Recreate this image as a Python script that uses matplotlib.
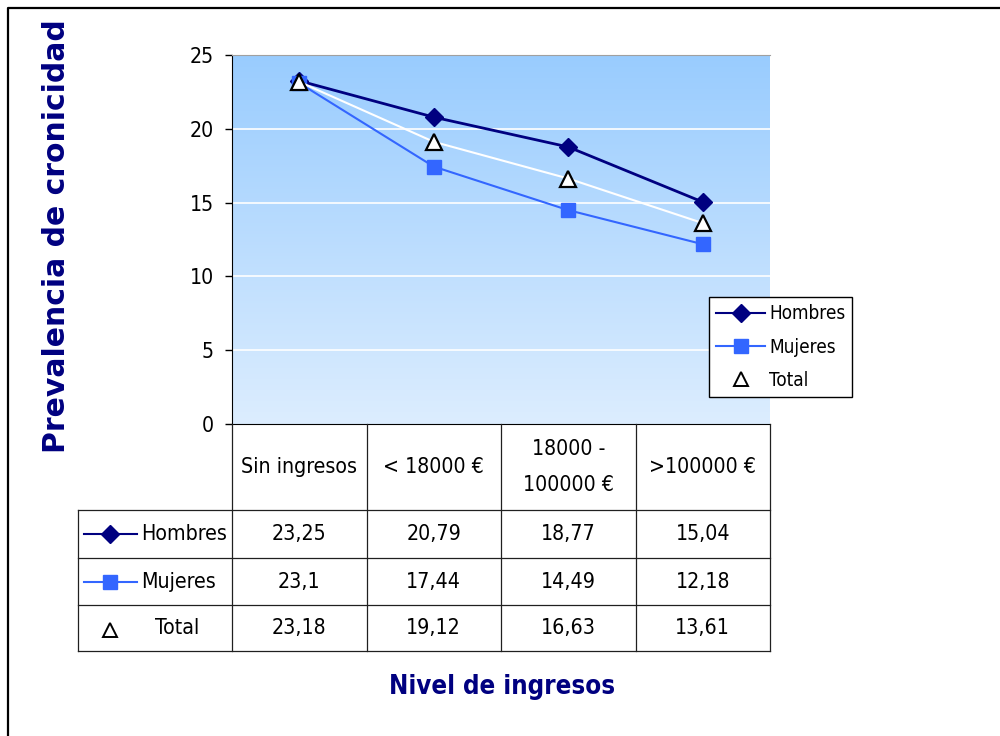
import matplotlib
matplotlib.use("Agg")
import numpy as np
import matplotlib.pyplot as plt
from matplotlib import font_manager as fm
from matplotlib import transforms
from matplotlib.lines import Line2D
from matplotlib.colors import LinearSegmentedColormap
from matplotlib.font_manager import FontProperties

# ---- data ----
categories = ["Sin ingresos", "< 18000 €", "18000 -\n100000 €", ">100000 €"]
series_names = ["Hombres", "Mujeres", "Total"]
hombres = [23.25, 20.79, 18.77, 15.04]
mujeres = [23.1, 17.44, 14.49, 12.18]
total = [23.18, 19.12, 16.63, 13.61]
yticks = [0, 5, 10, 15, 20, 25]
ylabel = "Prevalencia de cronicidad"
xlabel = "Nivel de ingresos"

# ---- fonts: prefer a narrow sans, else regular Liberation Sans scaled down ----
def find_font(keys, bold=False):
    for key in keys:
        for f in fm.fontManager.ttflist:
            fn = f.fname.replace("-", "").replace("_", "").lower()
            if key in fn and ("italic" not in fn and "oblique" not in fn):
                if bold == ("bold" in fn):
                    return f.fname
    return None


KEYS = ["liberationsansnarrow", "dejavusanscondensed", "robotocondensed"]
reg_path = find_font(KEYS)
bold_path = find_font(KEYS, bold=True)
if reg_path:
    k = 0.85
    FP = lambda s: FontProperties(fname=reg_path, size=s)
    FPB = lambda s: FontProperties(fname=bold_path or reg_path, size=s,
                                   weight="bold")
else:
    k = 0.83
    FP = lambda s: FontProperties(family="Liberation Sans", size=s)
    FPB = lambda s: FontProperties(family="Liberation Sans", size=s, weight="bold")

NAVY = "#000080"
BLUE = "#3366FF"
FS = 18 * k

W, H = 1000, 736
fig = plt.figure(figsize=(W / 100, H / 100), dpi=100)


def fx(px):
    return px / W


def fy(py):
    return 1 - py / H


# outer frame (top and left edges)
fig.add_artist(Line2D([fx(8), fx(8), fx(1010)], [fy(745), fy(8), fy(8)],
                      transform=fig.transFigure, color="black", lw=1.6))

# ---- plot area ----
L, R, T, B = 232, 770, 55, 424
ax = fig.add_axes([fx(L), fy(B), fx(R - L), (B - T) / H])
ax.set_xlim(-0.5, len(categories) - 0.5)
ax.set_ylim(0, 25)

grad = np.linspace(0, 1, 256).reshape(-1, 1)
cmap = LinearSegmentedColormap.from_list("bg", ["#DCEDFE", "#99CCFF"])
ax.imshow(grad, extent=(-0.5, len(categories) - 0.5, 0, 25), origin="lower",
          aspect="auto", cmap=cmap, zorder=0, interpolation="bilinear")

for v in yticks[1:-1]:
    ax.axhline(v, color="white", lw=1.2, zorder=1)

ax.spines["top"].set_color("#A0A0A0")
ax.spines["right"].set_visible(False)
ax.spines["left"].set_color("black")
ax.spines["bottom"].set_color("black")
ax.set_xticks([])
ax.set_yticks(yticks)
ax.tick_params(axis="y", direction="out", length=5, width=1, pad=8)
for t in ax.get_yticklabels():
    t.set_fontproperties(FP(FS))

x = np.arange(len(categories))
styles = [
    dict(color=NAVY, lw=2, marker="D", ms=9.5, mfc=NAVY, mec=NAVY),
    dict(color=BLUE, lw=1.5, marker="s", ms=10, mfc=BLUE, mec=BLUE),
    dict(color="white", lw=1.5, marker="^", ms=11, mfc="white", mec="black", mew=1.6),
]
legend_styles = [
    dict(color=NAVY, lw=1.5, marker="D", ms=9, mfc=NAVY, mec=NAVY),
    dict(color=BLUE, lw=1.5, marker="s", ms=9.5, mfc=BLUE, mec=BLUE),
    dict(color="none", lw=0, marker="^", ms=10, mfc="white", mec="black", mew=1.4),
]
values = [hombres, mujeres, total]
for name, vals, st in zip(series_names, values, styles):
    ax.plot(x, vals, zorder=3, clip_on=False, **st)

handles = [Line2D([], [], **st) for st in legend_styles]
leg = ax.legend(handles, series_names, loc="upper left",
                bbox_to_anchor=(fx(709), fy(297)), bbox_transform=fig.transFigure,
                borderaxespad=0, frameon=True, fancybox=False, framealpha=1,
                edgecolor="black", handlelength=2.6, handletextpad=0.2,
                labelspacing=0.76, borderpad=0.38, prop=FP(13.6 if reg_path else 14))
leg.get_frame().set_linewidth(1.0)
leg.set_zorder(10)

# ---- data table under the plot ----
blend = transforms.blended_transform_factory(ax.transData, fig.transFigure)
row_edges = [510, 558, 605, 651]
line_kw = dict(color="#202020", lw=0.9)

# vertical column borders at category boundaries
for edge in np.arange(-0.5, len(categories), 1.0):
    fig.add_artist(Line2D([edge, edge], [fy(B), fy(row_edges[-1])],
                          transform=blend, **line_kw))
# horizontal row borders
for ry in row_edges:
    fig.add_artist(Line2D([fx(78), fx(R)], [fy(ry), fy(ry)],
                          transform=fig.transFigure, **line_kw))
fig.add_artist(Line2D([fx(78), fx(78)], [fy(row_edges[0]), fy(row_edges[-1])],
                      transform=fig.transFigure, **line_kw))

# header: category names
for i, cat in enumerate(categories):
    fig.text(i, fy((B + row_edges[0]) / 2), cat, transform=blend,
             ha="center", va="center", fontproperties=FP(FS), linespacing=2.05)

# body: row keys and values
for r, (name, vals, st) in enumerate(zip(series_names, values, legend_styles)):
    cy = fy((row_edges[r] + row_edges[r + 1]) / 2)
    if r < 2:
        fig.add_artist(Line2D([fx(84), fx(137)], [cy, cy],
                              transform=fig.transFigure, color=st["color"], lw=1.5))
    mk = {kk: vv for kk, vv in st.items() if kk not in ("color", "lw")}
    fig.add_artist(Line2D([fx(110)], [cy - (0.003 if r == 2 else 0)],
                          transform=fig.transFigure, lw=0, **mk))
    fig.text(fx(141 if r < 2 else 155), cy, name, ha="left", va="center",
             fontproperties=FP(FS))
    for i, v in enumerate(vals):
        fig.text(i, cy, f"{v:g}".replace(".", ","), transform=blend,
                 ha="center", va="center", fontproperties=FP(FS))

# axis titles
fig.text(fx(502), fy(687), xlabel, ha="center", va="center", color=NAVY,
         fontproperties=FPB(18.5 if reg_path else 23 * k))
fig.text(fx(57), fy(236), ylabel, ha="center", va="center", color=NAVY,
         rotation=90, fontsize=21.5, family="DejaVu Sans", fontweight="bold")

fig.savefig("out.png", dpi=100)
